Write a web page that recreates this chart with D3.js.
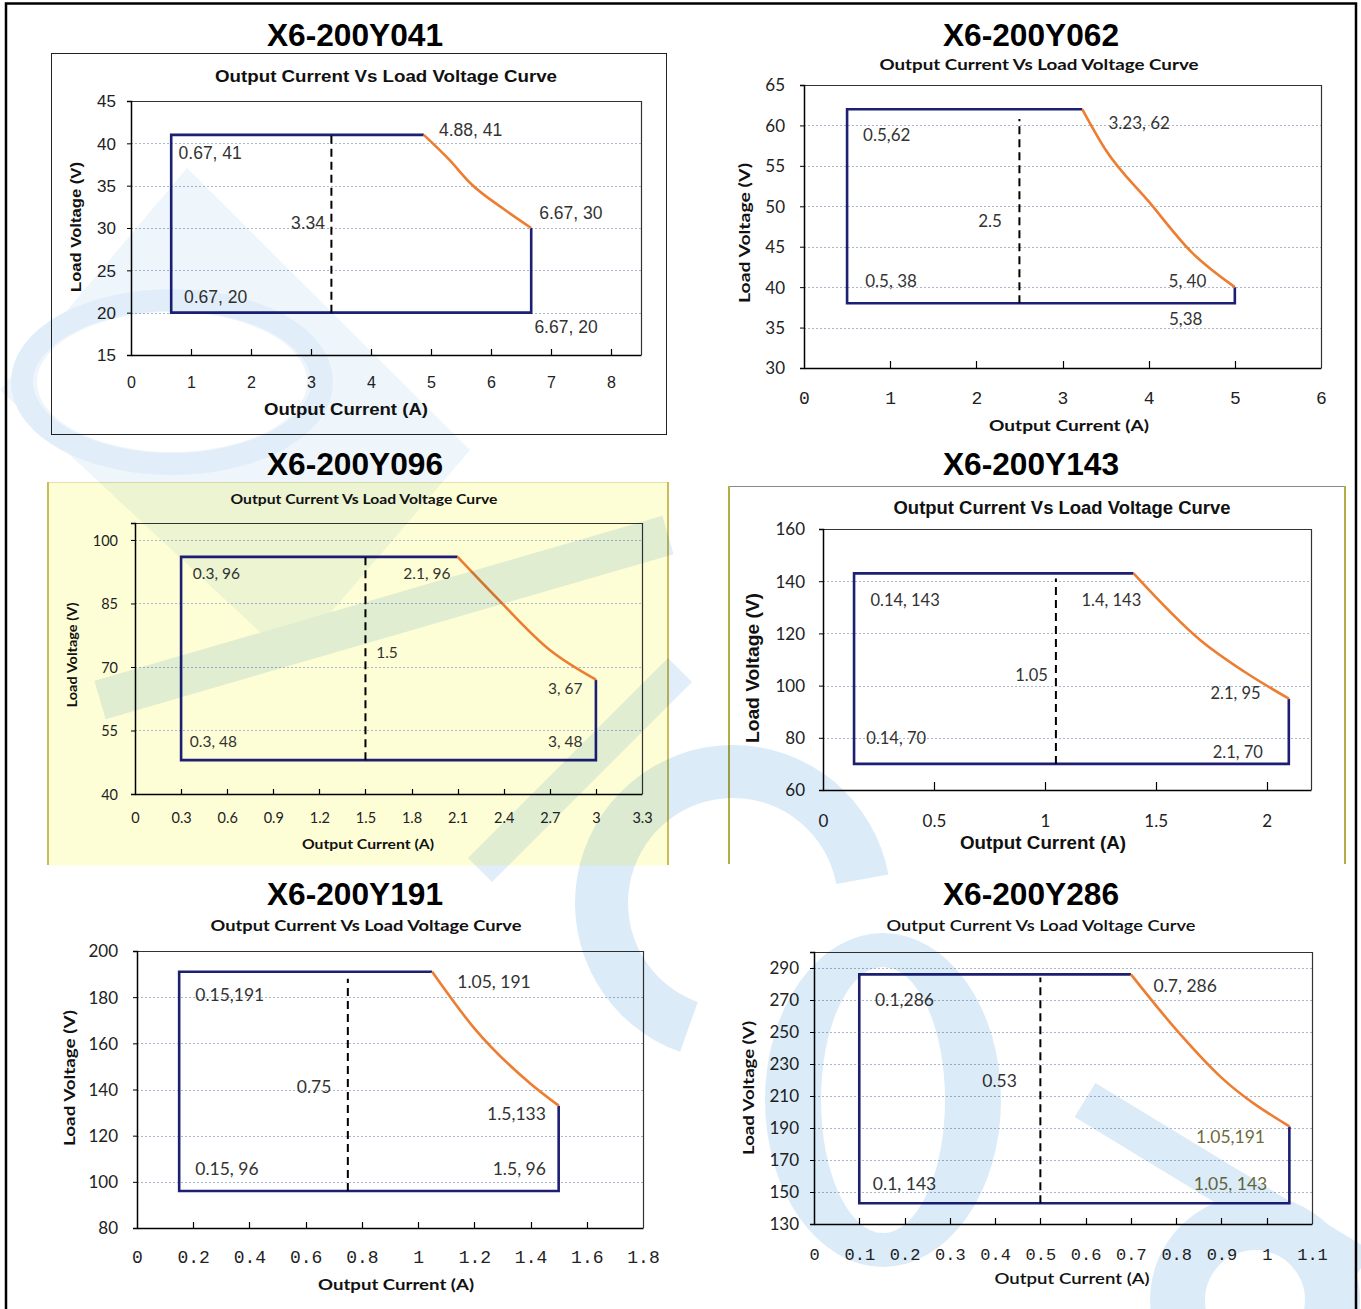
<!DOCTYPE html>
<html><head><meta charset="utf-8">
<script src="https://cdn.jsdelivr.net/npm/d3@7"></script>
<style>body{margin:0;background:#fff}svg{display:block}</style>
</head><body>
<svg id="c" width="1361" height="1309"></svg>
<script>
// ---------------- DATA ----------------
const models = ["X6-200Y041","X6-200Y062","X6-200Y096","X6-200Y143","X6-200Y191","X6-200Y286"];
const chartTitle = "Output Current Vs Load Voltage Curve";
const yTitleText = "Load Voltage (V)";
const xTitleTexts = ["Output Current (A)","Output Current (A)","Output Current (A)","Output Current  (A)","Output Current (A)","Output Current (A)"];

// Y041
const y041XTicks = [0,1,2,3,4,5,6,7,8];
const y041YTicks = [15,20,25,30,35,40,45];
const y041XDomain = [0,8.5], y041YDomain = [15,45];
const y041Box = [[6.67,30],[6.67,20],[0.67,20],[0.67,41],[4.88,41]];
const y041Curve = [[4.88,41],[5.3,38.1],[5.67,35.2],[6.2,32.3],[6.67,30]];
const y041Dash = [3.34,20,41];
const y041Labels = [["0.67, 41",1.32,38.8],["4.88, 41",5.66,41.6],["3.34",2.95,30.6],["6.67, 30",7.33,31.8],["0.67, 20",1.41,21.8],["6.67, 20",7.25,18.3]];

// Y062
const y062XTicks = [0,1,2,3,4,5,6];
const y062YTicks = [30,35,40,45,50,55,60,65];
const y062XDomain = [0,6], y062YDomain = [30,65];
const y062Box = [[5,40],[5,38],[0.5,38],[0.5,62],[3.23,62]];
const y062Curve = [[3.23,62],[3.5,57],[4,50.6],[4.5,44.3],[5,40]];
const y062Dash = [2.5,38,60.8];
const y062Labels = [["0.5,62",0.96,58.9],["3.23, 62",3.89,60.4],["2.5",2.16,48.2],["0.5, 38",1.01,40.8],["5, 40",4.45,40.8],["5,38",4.43,36.1]];

// Y096
const y096XTicks = [0,0.3,0.6,0.9,1.2,1.5,1.8,2.1,2.4,2.7,3,3.3];
const y096YTicks = [40,55,70,85,100];
const y096XDomain = [0,3.3], y096YDomain = [40,104];
const y096Box = [[3,67],[3,48],[0.3,48],[0.3,96],[2.1,96]];
const y096Curve = [[2.1,96],[2.35,86.5],[2.7,74],[3,67]];
const y096Dash = [1.5,48,96];
const y096Labels = [["0.3, 96",0.53,92.2],["2.1, 96",1.9,92.2],["1.5",1.64,73.5],["3, 67",2.8,65],["0.3, 48",0.51,52.5],["3, 48",2.8,52.5]];

// Y143
const y143XTicks = [0,0.5,1,1.5,2];
const y143YTicks = [60,80,100,120,140,160];
const y143XDomain = [0,2.2], y143YDomain = [60,160];
const y143Box = [[2.1,95],[2.1,70],[0.14,70],[0.14,143],[1.4,143]];
const y143Curve = [[1.4,143],[1.7,117.5],[1.9,105.3],[2.1,95]];
const y143Dash = [1.05,70,141];
const y143Labels = [["0.14, 143",0.37,132.8],["1.4, 143",1.3,132.8],["1.05",0.94,104.1],["2.1, 95",1.86,97.2],["0.14, 70",0.33,79.9],["2.1, 70",1.87,74.6]];

// Y191
const y191XTicks = [0,0.2,0.4,0.6,0.8,1,1.2,1.4,1.6,1.8];
const y191YTicks = [80,100,120,140,160,180,200];
const y191XDomain = [0,1.8], y191YDomain = [80,200];
const y191Box = [[1.5,133],[1.5,96],[0.15,96],[0.15,191],[1.05,191]];
const y191Curve = [[1.05,191],[1.2,166.5],[1.4,142.5],[1.5,133]];
const y191Dash = [0.75,96,188];
const y191Labels = [["0.15,191",0.33,181],["1.05, 191",1.27,186.6],["0.75",0.63,141.5],["1.5,133",1.35,129.8],["0.15, 96",0.32,105.6],["1.5, 96",1.36,105.6]];

// Y286
const y286XTicks = [0,0.1,0.2,0.3,0.4,0.5,0.6,0.7,0.8,0.9,1,1.1];
const y286YTicks = [130,150,170,190,210,230,250,270,290];
const y286XDomain = [0,1.1], y286YDomain = [130,300];
const y286Box = [[1.05,191],[1.05,143],[0.1,143],[0.1,286],[0.7,286]];
const y286Curve = [[0.7,286],[0.8,251.5],[0.9,221.5],[1.05,191]];
const y286Dash = [0.5,143,284];
const y286Labels = [["0.1,286",0.2,270.6],["0.7, 286",0.82,278.8],["0.53",0.41,219.4],["1.05,191",0.92,185],["0.1, 143",0.2,155.6],["1.05, 143",0.92,155.6]];

// ---------------- LAYOUT / STYLE ----------------
const ARIAL = "'Liberation Sans', Arial, sans-serif";
const CAL = "Lato, 'Noto Sans', sans-serif";
const MONO = "'Liberation Mono', 'DejaVu Sans Mono', monospace";
const NAVY = "#1c1f72", ORANGE = "#ed7d31";

const panels = [
 {xt:y041XTicks,yt:y041YTicks,xd:y041XDomain,yd:y041YDomain,box:y041Box,curve:y041Curve,dash:y041Dash,labels:y041Labels,
  mt:[355,46], frame:{x:51,y:53,w:615,h:381,fill:"#fff",all:"#222"},
  ct:{x:386,y:82,f:ARIAL,s:16,w:700,len:342},
  plot:[131,101,641,355], ytl:{x:116,f:ARIAL,s:17}, xtl:{y:382,f:ARIAL,s:16},
  yti:{x:75,y:227,f:ARIAL,s:15,w:700,len:130}, xti:{x:346,y:409,f:ARIAL,s:16,w:700,len:164},
  lab:{f:ARIAL,s:17.5}, tickIn:6},
 {xt:y062XTicks,yt:y062YTicks,xd:y062XDomain,yd:y062YDomain,box:y062Box,curve:y062Curve,dash:y062Dash,labels:y062Labels,
  mt:[1031,46],
  ct:{x:1039,y:70,f:CAL,s:16,w:700,len:319},
  plot:[804,85,1321,368], ytl:{x:785,f:CAL,s:17}, xtl:{y:398,f:MONO,s:18},
  yti:{x:743,y:233,f:CAL,s:16,w:700,len:140}, xti:{x:1069,y:424,f:CAL,s:16,w:700,len:160},
  lab:{f:CAL,s:17}, tickIn:7},
 {xt:y096XTicks,yt:y096YTicks,xd:y096XDomain,yd:y096YDomain,box:y096Box,curve:y096Curve,dash:y096Dash,labels:y096Labels,
  mt:[355,475], frame:{x:47,y:482,w:621,h:383,fill:"#fefed6",top:"#e6e0a8",side:"#c9bd5a"},
  ct:{x:364,y:504,f:CAL,s:13,w:700,len:267},
  plot:[135,523,642,794], ytl:{x:118,f:CAL,s:14.5}, xtl:{y:818,f:CAL,s:14.5},
  yti:{x:72,y:655,f:CAL,s:13,w:700,len:105}, xti:{x:368,y:844,f:CAL,s:13,w:700,len:132},
  lab:{f:CAL,s:15.5}, tickIn:5},
 {xt:y143XTicks,yt:y143YTicks,xd:y143XDomain,yd:y143YDomain,box:y143Box,curve:y143Curve,dash:y143Dash,labels:y143Labels,
  mt:[1031,475], frame:{x:728,y:486,w:617,h:378,fill:"#fff",top:"#8a8a8a",side:"#b3ad45"},
  ct:{x:1062,y:514,f:ARIAL,s:18,w:700,len:337},
  plot:[823,529,1311,790], ytl:{x:805,f:CAL,s:17}, xtl:{y:821,f:CAL,s:17},
  yti:{x:753,y:668,f:ARIAL,s:18,w:700,len:150}, xti:{x:1043,y:843,f:ARIAL,s:18,w:700,len:166},
  lab:{f:CAL,s:16.5}, tickIn:8},
 {xt:y191XTicks,yt:y191YTicks,xd:y191XDomain,yd:y191YDomain,box:y191Box,curve:y191Curve,dash:y191Dash,labels:y191Labels,
  mt:[355,905],
  ct:{x:366,y:931,f:CAL,s:16,w:700,len:311},
  plot:[137,951,643,1228], ytl:{x:118,f:CAL,s:17}, xtl:{y:1257,f:MONO,s:18},
  yti:{x:68,y:1078,f:CAL,s:16,w:700,len:136}, xti:{x:396,y:1283,f:CAL,s:16,w:700,len:156},
  lab:{f:CAL,s:17.5}, tickIn:6},
 {xt:y286XTicks,yt:y286YTicks,xd:y286XDomain,yd:y286YDomain,box:y286Box,curve:y286Curve,dash:y286Dash,labels:y286Labels,
  mt:[1031,905],
  ct:{x:1041,y:931,f:CAL,s:16,w:600,len:309},
  plot:[814,952,1312,1224], ytl:{x:799,f:CAL,s:17}, xtl:{y:1254,f:MONO,s:17},
  yti:{x:748,y:1088,f:CAL,s:15,w:700,len:134}, xti:{x:1072,y:1277,f:CAL,s:16,w:600,len:155},
  lab:{f:CAL,s:17.5}, tickIn:6, olive:[3,5]}
];

const svg = d3.select("#c");
svg.append("rect").attr("width",1361).attr("height",1309).attr("fill","#fff");

function txt(g, x, y, s, o) {
  const t = g.append("text").attr("x",x).attr("y",y).text(s)
    .attr("font-family",o.f).attr("font-size",o.s).attr("font-weight",o.w||400)
    .attr("fill",o.fill||"#000").attr("text-anchor",o.a||"middle")
    .attr("dominant-baseline",o.db||"auto");
  if (o.len) t.attr("textLength",o.len).attr("lengthAdjust","spacingAndGlyphs");
  if (o.rot) t.attr("transform",`rotate(${o.rot},${x},${y})`);
  return t;
}

panels.forEach((p,i) => {
  const g = svg.append("g");
  const fr = p.frame;
  if (fr) {
    g.append("rect").attr("x",fr.x+0.5).attr("y",fr.y+0.5).attr("width",fr.w).attr("height",fr.h)
      .attr("fill",fr.fill).attr("stroke",fr.all||"none").attr("stroke-width",1);
    if (fr.side) {
      g.append("line").attr("x1",fr.x+0.5).attr("x2",fr.x+fr.w+0.5).attr("y1",fr.y+0.5).attr("y2",fr.y+0.5)
        .attr("stroke",fr.top).attr("stroke-width",1.2);
      [fr.x+1, fr.x+fr.w].forEach(xx => g.append("line").attr("x1",xx).attr("x2",xx).attr("y1",fr.y).attr("y2",fr.y+fr.h)
        .attr("stroke",fr.side).attr("stroke-width",2));
    }
  }
  txt(g, p.mt[0], p.mt[1], models[i], {f:ARIAL,s:31,w:700,len:176});
  txt(g, p.ct.x, p.ct.y, chartTitle, {f:p.ct.f,s:p.ct.s,w:p.ct.w,len:p.ct.len,fill:"#111"});

  const [L,T,R,B] = p.plot;
  const x = d3.scaleLinear().domain(p.xd).range([L,R]);
  const y = d3.scaleLinear().domain(p.yd).range([B,T]);

  // gridlines
  g.append("g").selectAll("line").data(p.yt.filter(v => v>p.yd[0])).join("line")
    .attr("x1",L).attr("x2",R).attr("y1",d=>Math.round(y(d))+0.5).attr("y2",d=>Math.round(y(d))+0.5)
    .attr("stroke","#a9b6cc").attr("stroke-width",1).attr("stroke-dasharray","2,2");

  // plot border (top/right)
  g.append("path").attr("d",`M${L},${T+0.5}H${R+0.5}V${B}`).attr("fill","none").attr("stroke","#333").attr("stroke-width",1.2);

  // axes via d3
  const yAxis = d3.axisLeft(y).tickValues(p.yt).tickSize(4).tickFormat(d=>String(d));
  const ya = g.append("g").attr("transform",`translate(${L},0)`).call(yAxis);
  ya.select(".domain").attr("stroke","#000").attr("stroke-width",1.5);
  ya.selectAll(".tick line").attr("stroke","#000");
  ya.selectAll(".tick text").attr("font-family",p.ytl.f).attr("font-size",p.ytl.s).attr("fill","#222")
    .attr("x",p.ytl.x-L).attr("dy","0.35em");

  const xAxis = d3.axisBottom(x).tickValues(p.xt).tickSize(0).tickFormat(d=>String(d));
  const xa = g.append("g").attr("transform",`translate(0,${B})`).call(xAxis);
  xa.select(".domain").attr("stroke","#000").attr("stroke-width",1.5);
  xa.selectAll(".tick text").attr("font-family",p.xtl.f).attr("font-size",p.xtl.s).attr("fill","#222")
    .attr("y",p.xtl.y-B).attr("dy","0.35em");
  // inward x ticks
  g.append("g").selectAll("line").data(p.xt.filter(v=>v>p.xd[0] && v<p.xd[1])).join("line")
    .attr("x1",d=>Math.round(x(d))+0.5).attr("x2",d=>Math.round(x(d))+0.5)
    .attr("y1",B).attr("y2",B-p.tickIn).attr("stroke","#000").attr("stroke-width",1.2);

  // axis titles
  txt(g, p.yti.x, p.yti.y, yTitleText, {f:p.yti.f,s:p.yti.s,w:p.yti.w,len:p.yti.len,rot:-90,db:"central",fill:"#111"});
  txt(g, p.xti.x, p.xti.y, xTitleTexts[i], {f:p.xti.f,s:p.xti.s,w:p.xti.w,len:p.xti.len,db:"central",fill:"#111"});

  // envelope
  const line = d3.line().x(d=>x(d[0])).y(d=>y(d[1]));
  g.append("path").attr("d",line(p.box)).attr("fill","none").attr("stroke",NAVY).attr("stroke-width",2.6).attr("stroke-linejoin","miter");
  const curveLine = d3.line().x(d=>x(d[0])).y(d=>y(d[1])).curve(d3.curveMonotoneX);
  g.append("path").attr("d",curveLine(p.curve)).attr("fill","none").attr("stroke",ORANGE).attr("stroke-width",2.6);
  g.append("line").attr("x1",x(p.dash[0])).attr("x2",x(p.dash[0])).attr("y1",y(p.dash[1])).attr("y2",y(p.dash[2]))
    .attr("stroke","#000").attr("stroke-width",2).attr("stroke-dasharray","8,5");

  // data labels
  g.append("g").selectAll("text").data(p.labels).join("text")
    .attr("x",d=>x(d[1])).attr("y",d=>y(d[2])).text(d=>d[0])
    .attr("text-anchor","middle").attr("dominant-baseline","central")
    .attr("font-family",p.lab.f).attr("font-size",p.lab.s)
    .attr("fill",(d,j)=> p.olive && p.olive.includes(j) ? "#6d6b3c" : "#333");
});

// outer border
svg.append("rect").attr("x",6).attr("y",3.5).attr("width",1350).attr("height",1312)
  .attr("fill","none").attr("stroke","#000").attr("stroke-width",2.5);

// faint watermark (multiplied over everything)
const wm = svg.append("g").style("mix-blend-mode","multiply");
const WM = "#e1eef9";
// top-left diamond with elliptical hole
wm.append("path").attr("fill","#eef5fb").attr("fill-rule","evenodd")
  .attr("d","M0,390 L187,168 L470,450 L290,660 Z M37,382 A135,70 0 1,0 307,382 A135,70 0 1,0 37,382 Z");
wm.append("ellipse").attr("cx",172).attr("cy",382).attr("rx",150).attr("ry",82)
  .attr("fill","none").attr("stroke",WM).attr("stroke-width",22);
// diagonal bands over the yellow panel
wm.append("line").attr("x1",100).attr("y1",700).attr("x2",668).attr("y2",535).attr("stroke",WM).attr("stroke-width",40);
wm.append("line").attr("x1",480).attr("y1",870).attr("x2",680).attr("y2",670).attr("stroke",WM).attr("stroke-width",34);
// big C arc
wm.append("path").attr("transform","translate(733,903)").attr("fill","#dcebf8")
  .attr("d",d3.arc()({innerRadius:105,outerRadius:158,startAngle:-2.8,endAngle:1.39}));
// tall ring behind the last panel
wm.append("path").attr("fill","#dcebf8").attr("fill-rule","evenodd")
  .attr("d","M765,1100 A118,167 0 1,0 1001,1100 A118,167 0 1,0 765,1100 Z M821,1100 A62,133 0 1,0 945,1100 A62,133 0 1,0 821,1100 Z");
// lower-right band and ring
wm.append("line").attr("x1",1085).attr("y1",1100).attr("x2",1361).attr("y2",1268).attr("stroke","#dcebf8").attr("stroke-width",40);
wm.append("path").attr("transform","translate(1255,1300)").attr("fill","#dcebf8")
  .attr("d",d3.arc()({innerRadius:50,outerRadius:105,startAngle:0,endAngle:2*Math.PI}));
</script>
</body></html>
